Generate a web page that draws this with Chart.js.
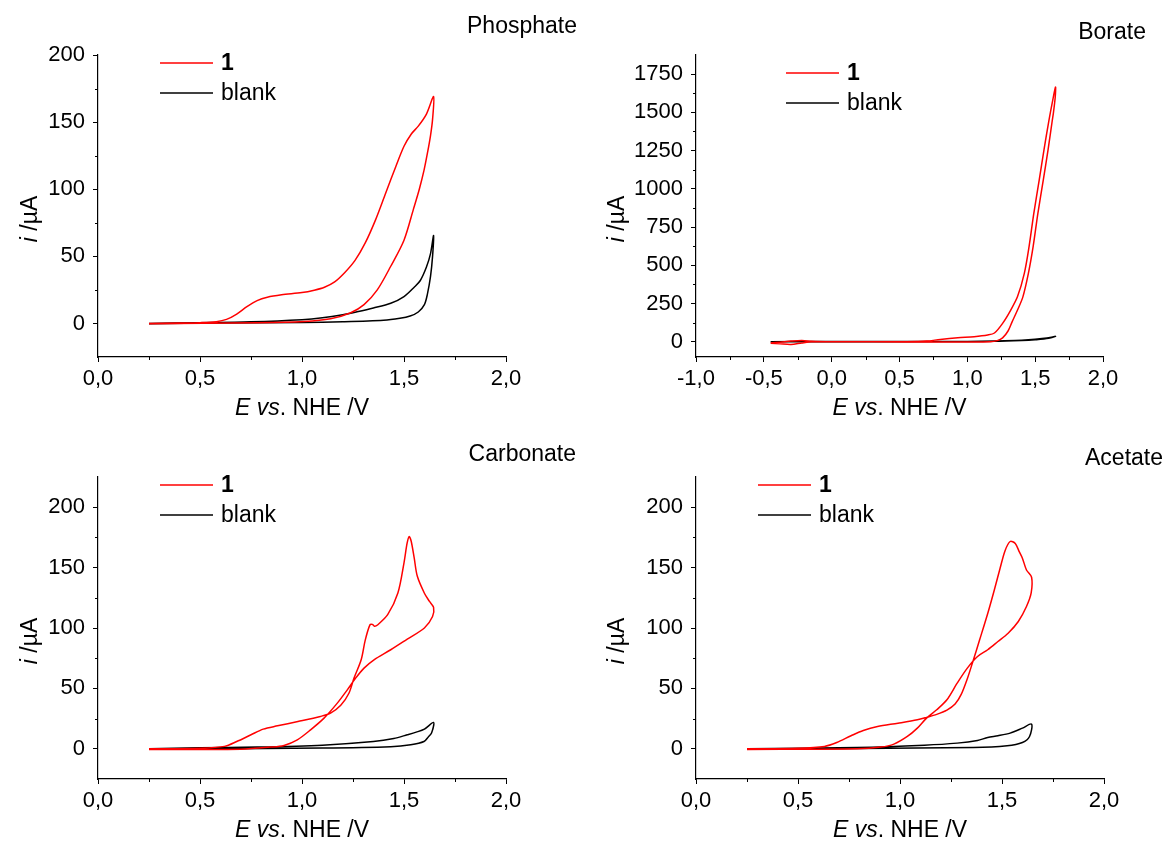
<!DOCTYPE html>
<html>
<head>
<meta charset="utf-8">
<script src="https://cdn.jsdelivr.net/npm/chart.js@4.4.0/dist/chart.umd.min.js"></script>
<style>
  body { margin: 0; background: #fff; }
  .panel { position: absolute; width: 583px; height: 422px; }
</style>
</head>
<body>
<div class="panel" style="left:0;top:0"><canvas id="phosphate" width="583" height="422"></canvas></div>
<div class="panel" style="left:583px;top:0"><canvas id="borate" width="583" height="422"></canvas></div>
<div class="panel" style="left:0;top:422px"><canvas id="carbonate" width="583" height="422"></canvas></div>
<div class="panel" style="left:583px;top:422px"><canvas id="acetate" width="583" height="422"></canvas></div>
<script>
// ---- data (E in V vs NHE, i in µA), each list is one closed CV loop ----
const phosRedE = [0.25, 0.40, 0.50, 0.58, 0.63, 0.68, 0.73, 0.78, 0.83, 0.90, 1.00, 1.06, 1.11, 1.16, 1.21, 1.26, 1.31, 1.36, 1.41, 1.46, 1.50, 1.535, 1.57, 1.61, 1.645,
                  1.64, 1.63, 1.615, 1.598, 1.575, 1.546, 1.50, 1.435, 1.369, 1.304, 1.239, 1.14, 1.01, 0.78, 0.25];
const phosRedI = [0, 0.3, 0.6, 1.3, 3, 7, 12.5, 17, 19.5, 21.3, 23, 24.8, 27, 31, 38, 47, 60, 77, 97, 117, 132, 141, 147, 156, 169,
                  152, 140, 127, 114, 100, 85, 62, 42.6, 25, 14, 8, 3.5, 1.5, 0.5, -0.2];
const phosBlankE = [0.25, 0.50, 0.75, 1.00, 1.10, 1.20, 1.27, 1.35, 1.435, 1.50, 1.55, 1.58, 1.61, 1.63, 1.645,
                    1.64, 1.63, 1.615, 1.60, 1.57, 1.53, 1.48, 1.40, 1.20, 1.00, 0.60, 0.25];
const phosBlankI = [0, 0.5, 1.2, 2.8, 4.2, 6.5, 8.7, 11.5, 15, 20, 27, 32, 42, 52, 65.6,
                    50, 35, 22, 14, 8.5, 5.5, 3.8, 2.3, 1.2, 0.7, 0.3, -0.2];

const borRedE = [-0.45, -0.38, -0.30, -0.22, -0.15, 0.0, 0.3, 0.55, 0.70, 0.80, 0.93, 1.05, 1.15, 1.20, 1.26, 1.32, 1.37, 1.42, 1.455, 1.49, 1.53, 1.565, 1.60, 1.63, 1.65,
                 1.648, 1.635, 1.625, 1.595, 1.56, 1.52, 1.485, 1.45, 1.41, 1.37, 1.33, 1.30, 1.26, 1.22, 1.17, 0.80, 0.30, 0.0, -0.15, -0.22, -0.30, -0.38, -0.45];
const borRedI = [-10, -14, -18, -8, -1, 0, 0, 0, 4, 15, 26, 33, 44, 57, 120, 207, 295, 447, 622, 840, 1058, 1255, 1440, 1582, 1665,
                 1600, 1500, 1440, 1255, 1058, 840, 622, 447, 295, 207, 130, 70, 25, 7, 0, -2, -1, 0, 3, 8, 4, -3, -8];
const borBlankE = [-0.45, 0.0, 0.5, 1.0, 1.2, 1.35, 1.45, 1.55, 1.62, 1.65,
                   1.60, 1.50, 1.40, 1.20, 0.80, 0.0, -0.45];
const borBlankI = [0, 1, 1, 2, 4, 8, 13, 21, 29, 35,
                   22, 13, 8, 3, 1, 0, -1];

const carbRedE = [0.25, 0.50, 0.62, 0.68, 0.75, 0.81, 0.88, 0.98, 1.09, 1.14, 1.19, 1.23, 1.255, 1.29, 1.31, 1.333, 1.345, 1.355, 1.37, 1.42, 1.47, 1.50, 1.515, 1.525, 1.535, 1.55, 1.565, 1.60, 1.625, 1.645,
                  1.64, 1.60, 1.516, 1.435, 1.353, 1.304, 1.263, 1.222, 1.173, 1.108, 1.042, 0.977, 0.912, 0.846, 0.70, 0.25];
const carbRedI = [0, 0.5, 2, 6, 11.6, 16.3, 19, 22.6, 26.8, 29.5, 36, 46, 58.5, 73.7, 90, 102.6, 103, 101.5, 102.5, 111, 129, 154, 170, 175.7, 172, 158, 143, 128.8, 122, 117,
                  109.5, 100, 90.8, 82, 73.7, 66.8, 58.5, 48.8, 37.8, 25.4, 15.7, 7.4, 2.8, 1.4, -0.3, -0.5];
const carbBlankE = [0.25, 0.50, 0.78, 1.10, 1.35, 1.45, 1.516, 1.56, 1.60, 1.645,
                    1.635, 1.62, 1.598, 1.533, 1.435, 1.10, 0.25];
const carbBlankI = [0, 0.8, 1.4, 3, 6, 8.5, 11.6, 13.8, 16.3, 21.8,
                    13, 10, 6, 3.3, 1.7, 0.6, -0.3];

const aceRedE = [0.25, 0.50, 0.63, 0.69, 0.76, 0.82, 0.89, 0.99, 1.085, 1.13, 1.18, 1.23, 1.27, 1.30, 1.33, 1.36, 1.39, 1.43, 1.46, 1.49, 1.515, 1.54, 1.565, 1.585, 1.60, 1.62, 1.645,
                 1.643, 1.62, 1.58, 1.53, 1.48, 1.43, 1.38, 1.33, 1.28, 1.23, 1.18, 1.13, 1.085, 1.036, 0.97, 0.905, 0.79, 0.25];
const aceRedI = [0, 0.5, 2, 5.2, 10.8, 15.2, 18.5, 21.2, 24, 26, 28.5, 32, 37, 45, 58, 73.7, 90, 112, 130, 149, 164, 171.6, 170, 163, 157.8, 148, 142,
                 129, 117.8, 105.4, 95.7, 88.8, 82, 76.4, 66.8, 54.3, 40.6, 32.3, 25.4, 17.1, 10.2, 3.9, 1.4, 0, -0.5];
const aceBlankE = [0.25, 0.79, 1.12, 1.28, 1.38, 1.43, 1.48, 1.54, 1.60, 1.645,
                   1.635, 1.60, 1.525, 1.36, 0.25];
const aceBlankI = [0, 1.1, 3, 4.7, 6.9, 9.4, 10.8, 13, 17.1, 20.4,
                   10.2, 5.2, 2.5, 1.1, -0.3];

// tick values
const xTicks = [0, 0.5, 1.0, 1.5, 2.0];
const xMinor = [0.25, 0.75, 1.25, 1.75];
const xTicksBorate = [-1.0, -0.5, 0, 0.5, 1.0, 1.5, 2.0];
const xMinorBorate = [-0.75, -0.25, 0.25, 0.75, 1.25, 1.75];
const yTicks = [0, 50, 100, 150, 200];
const yMinor = [25, 75, 125, 175];
const yTicksBorate = [0, 250, 500, 750, 1000, 1250, 1500, 1750];
const yMinorBorate = [125, 375, 625, 875, 1125, 1375, 1625];

const seriesLabels = ['1', 'blank'];
const seriesBold = [true, false];
const seriesColors = ['#ff0000', '#000000'];

const FONT = '"Liberation Sans", Arial, sans-serif';
const TEXT_SIZE = 23;
Chart.defaults.font.family = FONT;
Chart.defaults.color = '#000';

const toPoints = (E, I) => E.map((e, k) => ({ x: e, y: I[k] }));
const fmtX = v => v.toFixed(1).replace('.', ',');

// draws mixed italic / upright text centred on (x, y)
const drawRuns = (ctx, runs, x, y) => {
    let total = 0;
    runs.forEach(r => { ctx.font = (r[1] ? 'italic ' : '') + TEXT_SIZE + 'px ' + FONT; total += ctx.measureText(r[0]).width; });
    let cx = x - total / 2;
    ctx.textAlign = 'left';
    ctx.textBaseline = 'middle';
    runs.forEach(r => {
        ctx.font = (r[1] ? 'italic ' : '') + TEXT_SIZE + 'px ' + FONT;
        ctx.fillText(r[0], cx, y);
        cx += ctx.measureText(r[0]).width;
    });
};

// minor ticks, panel name, legend and axis titles
const panelDecor = {
    id: 'panelDecor',
    afterDraw(chart, args, o) {
        const ctx = chart.ctx;
        const { left, right, top, bottom } = chart.chartArea;
        const xs = chart.scales.x, ys = chart.scales.y;
        ctx.save();
        ctx.strokeStyle = '#000';
        ctx.lineWidth = 1;
        ctx.beginPath();
        o.xMinor.forEach(v => {
            const px = Math.round(xs.getPixelForValue(v)) + 0.5;
            ctx.moveTo(px, bottom); ctx.lineTo(px, bottom + 3);
        });
        o.yMinor.forEach(v => {
            const py = Math.round(ys.getPixelForValue(v)) + 0.5;
            ctx.moveTo(left, py); ctx.lineTo(left - 3, py);
        });
        ctx.stroke();

        // panel name
        ctx.fillStyle = '#000';
        ctx.font = TEXT_SIZE + 'px ' + FONT;
        ctx.textAlign = 'right';
        ctx.textBaseline = 'middle';
        ctx.fillText(o.title, o.titleX, o.titleY);

        // legend
        chart.data.datasets.forEach((ds, k) => {
            const y = o.legendY + k * 30;
            ctx.strokeStyle = ds.borderColor;
            ctx.lineWidth = 1.5;
            ctx.beginPath();
            ctx.moveTo(o.legendX, y); ctx.lineTo(o.legendX + 53, y);
            ctx.stroke();
            ctx.fillStyle = '#000';
            ctx.font = (seriesBold[k] ? 'bold ' : '') + TEXT_SIZE + 'px ' + FONT;
            ctx.textAlign = 'left';
            ctx.textBaseline = 'middle';
            ctx.fillText(ds.label, o.legendX + 61, y + 1);
        });

        // axis titles
        drawRuns(ctx, [['E', true], [' ', false], ['vs', true], ['. NHE /V', false]], (left + right) / 2, 409);
        ctx.translate(o.yTitleX, 219);
        ctx.rotate(-Math.PI / 2);
        drawRuns(ctx, [['i', true], [' /µA', false]], 0, 0);
        ctx.restore();
    }
};

const makePanel = (id, cfg) => {
    const datasets = cfg.series.map((s, k) => ({
        label: seriesLabels[k],
        data: toPoints(s[0], s[1]),
        borderColor: seriesColors[k],
        borderWidth: 1.5,
        pointRadius: 0,
        showLine: true,
        tension: 0.3,
        fill: false
    }));
    const axisGrid = { drawOnChartArea: false, drawTicks: true, tickLength: 5, color: '#000', tickColor: '#000' };
    new Chart(document.getElementById(id), {
        type: 'scatter',
        data: { datasets },
        plugins: [panelDecor],
        options: {
            responsive: false,
            animation: false,
            devicePixelRatio: 1,
            layout: { padding: { top: 55, right: 583 - cfg.right, left: 0, bottom: 0 } },
            plugins: {
                legend: { display: false },
                tooltip: { enabled: false },
                panelDecor: {
                    title: cfg.title, titleX: cfg.titleX, titleY: cfg.titleY,
                    legendX: cfg.legendX, legendY: cfg.legendY,
                    yTitleX: cfg.yTitleX,
                    xMinor: cfg.xMinor, yMinor: cfg.yMinor
                }
            },
            scales: {
                x: {
                    type: 'linear',
                    min: cfg.xMin, max: 2,
                    afterBuildTicks: s => { s.ticks = cfg.xTicks.map(v => ({ value: v })); },
                    afterFit: s => { s.height = 65; },
                    grid: axisGrid,
                    border: { color: '#000', width: 1.2 },
                    ticks: { font: { size: 22 }, color: '#000', padding: 4, maxRotation: 0, callback: v => fmtX(v) }
                },
                y: {
                    type: 'linear',
                    min: cfg.yMin, max: cfg.yMax,
                    afterBuildTicks: s => { s.ticks = cfg.yTicks.map(v => ({ value: v })); },
                    afterFit: s => { s.width = cfg.left; },
                    grid: axisGrid,
                    border: { color: '#000', width: 1.2 },
                    ticks: { font: { size: 22 }, color: '#000', padding: 8, callback: v => String(v) }
                }
            }
        }
    });
};

makePanel('phosphate', {
    series: [[phosRedE, phosRedI], [phosBlankE, phosBlankI]],
    title: 'Phosphate', titleX: 577, titleY: 27,
    legendX: 160, legendY: 63, yTitleX: 31,
    left: 98, right: 506, xMin: 0, yMin: -25, yMax: 200,
    xTicks, xMinor, yTicks, yMinor
});
makePanel('borate', {
    series: [[borRedE, borRedI], [borBlankE, borBlankI]],
    title: 'Borate', titleX: 563, titleY: 33,
    legendX: 203, legendY: 73, yTitleX: 35,
    left: 113, right: 520, xMin: -1, yMin: -100, yMax: 1875,
    xTicks: xTicksBorate, xMinor: xMinorBorate, yTicks: yTicksBorate, yMinor: yMinorBorate
});
makePanel('carbonate', {
    series: [[carbRedE, carbRedI], [carbBlankE, carbBlankI]],
    title: 'Carbonate', titleX: 576, titleY: 33,
    legendX: 160, legendY: 63, yTitleX: 31,
    left: 98, right: 506, xMin: 0, yMin: -25, yMax: 225,
    xTicks, xMinor, yTicks, yMinor
});
makePanel('acetate', {
    series: [[aceRedE, aceRedI], [aceBlankE, aceBlankI]],
    title: 'Acetate', titleX: 580, titleY: 37,
    legendX: 175, legendY: 63, yTitleX: 35,
    left: 113, right: 521, xMin: 0, yMin: -25, yMax: 225,
    xTicks, xMinor, yTicks, yMinor
});
</script>
</body>
</html>
